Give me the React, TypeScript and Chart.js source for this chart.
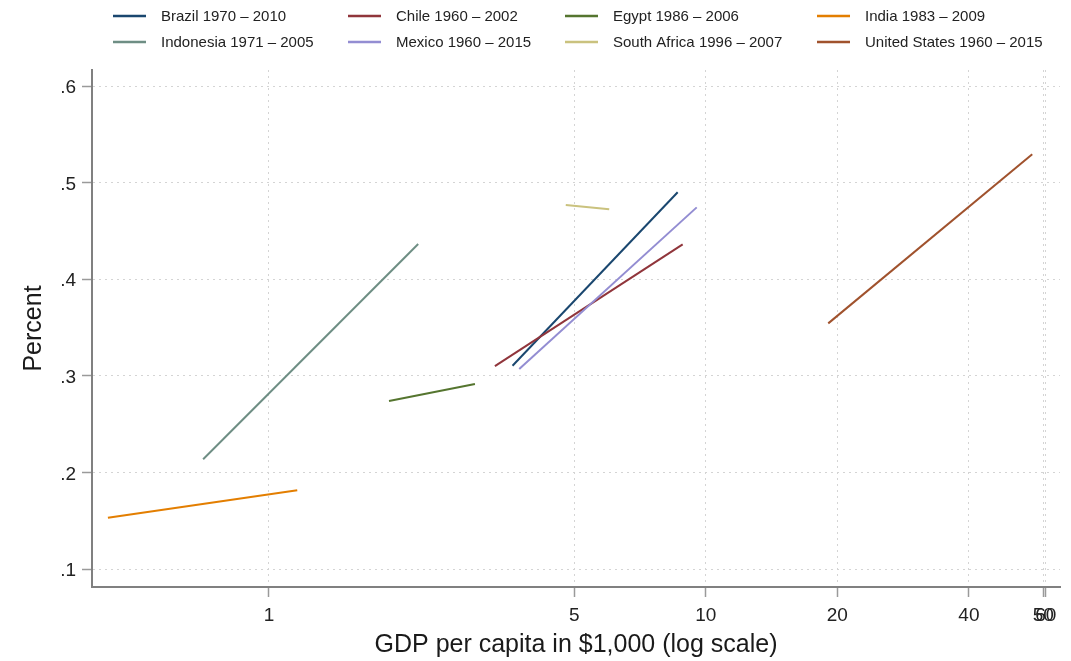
import React, { useEffect, useRef } from "react";
import { Chart, registerables } from "chart.js";

Chart.register(...registerables);

// Fitted trend of the share by GDP per capita, one segment per country
const countries = ["Brazil", "Chile", "Egypt", "India", "Indonesia", "Mexico", "South Africa", "United States"];
const periods = ["1970 – 2010", "1960 – 2002", "1986 – 2006", "1983 – 2009", "1971 – 2005", "1960 – 2015", "1996 – 2007", "1960 – 2015"];
const gdpStart = [3.61, 3.29, 1.883, 0.428, 0.707, 3.74, 4.78, 19.06];
const gdpEnd = [8.62, 8.85, 2.962, 1.161, 2.196, 9.53, 6.01, 55.85];
const shareStart = [0.3105, 0.31, 0.274, 0.153, 0.2136, 0.307, 0.4768, 0.3543];
const shareEnd = [0.49, 0.436, 0.2915, 0.1815, 0.4364, 0.4744, 0.4724, 0.5293];
const lineColors = ["#1a476f", "#90353b", "#55752f", "#e37e00", "#6e8e84", "#938dd2", "#cac27e", "#a0522d"];

const xTickValues = [1, 5, 10, 20, 40, 59.2, 60];
const xTickLabels = ["1", "5", "10", "20", "40", "50", "60"];
const yTickValues = [0.1, 0.2, 0.3, 0.4, 0.5, 0.6];
const yTickLabels = [".1", ".2", ".3", ".4", ".5", ".6"];

const FONT = "'Liberation Sans', Arial, sans-serif";

// Four-column legend laid out above the plot
const legendCols = [113, 348, 565, 817];
const legendRows = [16, 42];

const gridLegend = {
  id: "gridLegend",
  afterDraw(chart: any) {
    const ctx = chart.ctx;
    ctx.save();
    ctx.font = `15px ${FONT}`;
    ctx.textBaseline = "middle";
    ctx.textAlign = "left";
    chart.data.datasets.forEach((ds: any, i: number) => {
      const x = legendCols[i % 4];
      const y = legendRows[Math.floor(i / 4)];
      ctx.strokeStyle = ds.borderColor;
      ctx.lineWidth = 2.5;
      ctx.beginPath();
      ctx.moveTo(x, y);
      ctx.lineTo(x + 33, y);
      ctx.stroke();
      ctx.fillStyle = "#222";
      ctx.fillText(ds.label, x + 48, y + 1);
    });
    ctx.restore();
  },
};

export default function App() {
  const canvasRef = useRef<HTMLCanvasElement | null>(null);

  useEffect(() => {
    document.body.style.margin = "0";
    const canvas = canvasRef.current;
    if (!canvas) return;

    const datasets = countries.map((c, i) => ({
      label: `${c} ${periods[i]}`,
      data: [
        { x: gdpStart[i], y: shareStart[i] },
        { x: gdpEnd[i], y: shareEnd[i] },
      ],
      borderColor: lineColors[i],
      backgroundColor: lineColors[i],
      borderWidth: 2,
      pointRadius: 0,
      fill: false,
      order: countries.length - i,
    }));

    const gridCommon = {
      color: "#d4d4d4",
      lineWidth: 1,
      drawTicks: true,
      tickLength: 10,
      tickColor: "#9a9a9a",
      tickWidth: 1.5,
      tickBorderDash: [],
    };
    const borderCommon = { display: true, color: "#808080", width: 2, dash: [2, 4] };

    const chart = new Chart(canvas, {
      type: "line",
      data: { datasets },
      options: {
        animation: false,
        responsive: false,
        maintainAspectRatio: false,
        layout: { padding: { top: 70, right: 11, left: 0, bottom: 0 } },
        plugins: { legend: { display: false }, tooltip: { enabled: false } },
        scales: {
          x: {
            type: "logarithmic",
            position: "bottom",
            min: 0.3936,
            max: 64.65,
            afterBuildTicks: (s: any) => {
              s.ticks = xTickValues.map((v) => ({ value: v }));
            },
            afterFit: (s: any) => {
              s.height = 74;
            },
            ticks: {
              autoSkip: false,
              maxRotation: 0,
              padding: 7,
              color: "#222",
              font: { family: FONT, size: 19 },
              callback: (_v: any, i: number) => xTickLabels[i],
            },
            grid: gridCommon,
            border: borderCommon,
            title: {
              display: true,
              text: "GDP per capita in $1,000 (log scale)",
              color: "#1a1a1a",
              font: { family: FONT, size: 25 },
              padding: { top: 0, bottom: 1 },
            },
          },
          y: {
            type: "linear",
            min: 0.0814,
            max: 0.6166,
            afterBuildTicks: (s: any) => {
              s.ticks = yTickValues.map((v) => ({ value: v }));
            },
            afterFit: (s: any) => {
              s.width = 92;
            },
            ticks: {
              autoSkip: false,
              padding: 6,
              labelOffset: 2,
              color: "#222",
              font: { family: FONT, size: 19 },
              callback: (_v: any, i: number) => yTickLabels[i],
            },
            grid: gridCommon,
            border: borderCommon,
            title: {
              display: true,
              text: "Percent",
              color: "#1a1a1a",
              font: { family: FONT, size: 25 },
              padding: { top: 19, bottom: 0 },
            },
          },
        },
      },
      plugins: [gridLegend],
    });

    return () => chart.destroy();
  }, []);

  return (
    <div style={{ width: 1071, height: 661, background: "#fff" }}>
      <canvas ref={canvasRef} width={1071} height={661} style={{ display: "block" }} />
    </div>
  );
}
